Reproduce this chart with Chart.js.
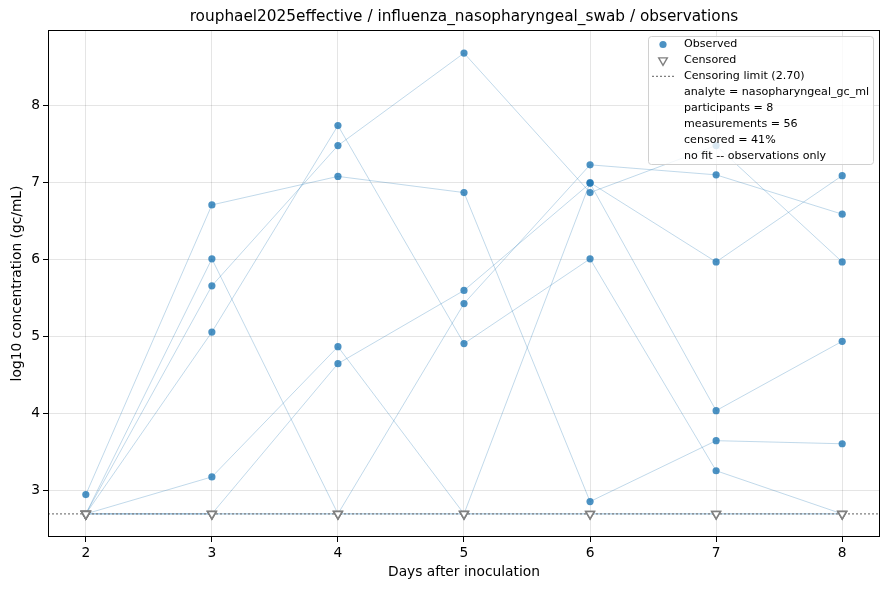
<!DOCTYPE html>
<html>
<head>
<meta charset="utf-8">
<script src="https://cdn.jsdelivr.net/npm/chart.js@4.4.1/dist/chart.umd.min.js"></script>
<style>
  html, body { margin: 0; padding: 0; background: #fff; }
  #wrap { width: 889px; height: 590px; position: relative; }
</style>
</head>
<body>
<div id="wrap"><canvas id="chart"></canvas></div>
<script>
// days sampled, one value per participant per day (null = below censoring limit)
const days = [2, 3, 4, 5, 6, 7, 8];
const censorLimit = 2.7;

const p1 = [2.95, 6.71, 7.08, 6.87, 2.86, 3.65, 3.61];
const p2 = [null, 5.06, 7.74, 4.91, 6.01, 3.26, null];
const p3 = [null, 5.66, 7.48, 8.68, 6.87, 7.48, 5.97];
const p4 = [null, 3.18, 4.87, null, null, null, null];
const p5 = [null, null, 4.65, 5.60, 6.99, 4.04, 4.94];
const p6 = [null, 6.01, null, 5.43, 7.23, 7.10, 6.59];
const p7 = [null, null, null, null, 7.00, 5.97, 7.09];
const p8 = [null, null, null, null, null, null, null];

const participants = [p1, p2, p3, p4, p5, p6, p7, p8];

const xTicks = [2, 3, 4, 5, 6, 7, 8];
const yTicks = [3, 4, 5, 6, 7, 8];

const legendLines = [
  "analyte = nasopharyngeal_gc_ml",
  "participants = 8",
  "measurements = 56",
  "censored = 41%",
  "no fit -- observations only",
];

const FONT = "'DejaVu Sans', sans-serif";
const BLUE = "rgba(31,119,180,0.8)";
const LINE_BLUE = "rgba(31,119,180,0.28)";
const GREY = "rgb(128,128,128)";

// build datasets
const datasets = [];
participants.forEach((vals) => {
  datasets.push({
    type: "line",
    data: vals.map((v, i) => ({ x: days[i], y: v === null ? censorLimit : v })),
    borderColor: LINE_BLUE,
    borderWidth: 1,
    pointRadius: 0,
    fill: false,
    tension: 0,
    order: 4,
  });
});

const observed = [];
const censored = [];
participants.forEach((vals) => {
  vals.forEach((v, i) => {
    if (v === null) censored.push({ x: days[i], y: censorLimit });
    else observed.push({ x: days[i], y: v });
  });
});

datasets.push({
  type: "line",
  data: [{ x: 1.7, y: censorLimit }, { x: 8.3, y: censorLimit }],
  borderColor: GREY,
  borderWidth: 1.3,
  borderDash: [2, 2],
  pointRadius: 0,
  fill: false,
  order: 3,
});

datasets.push({
  type: "scatter",
  data: censored,
  pointStyle: "triangle",
  rotation: 180,
  pointRadius: 5,
  backgroundColor: "#fff",
  borderColor: GREY,
  borderWidth: 1.5,
  order: 1,
});

datasets.push({
  type: "scatter",
  data: observed,
  pointRadius: 3.6,
  backgroundColor: BLUE,
  borderWidth: 0,
  order: 0,
});

const frameAndLegend = {
  id: "frameAndLegend",
  afterDraw(chart) {
    const ctx = chart.ctx;
    const a = chart.chartArea;
    ctx.save();
    // title
    ctx.fillStyle = "#000";
    ctx.font = "15.3px " + FONT;
    ctx.textAlign = "center";
    ctx.textBaseline = "middle";
    ctx.fillText("rouphael2025effective / influenza_nasopharyngeal_swab / observations", (a.left + a.right) / 2, 17);

    // axes frame
    ctx.strokeStyle = "#000";
    ctx.lineWidth = 1;
    ctx.strokeRect(a.left + 0.5, a.top + 0.5, a.right - a.left - 1, a.bottom - a.top - 1);

    // legend box
    const bx = 648, by = 36, bw = 225, bh = 128;
    ctx.beginPath();
    ctx.roundRect(bx + 0.5, by + 0.5, bw, bh, 3);
    ctx.fillStyle = "rgba(255,255,255,0.8)";
    ctx.fill();
    ctx.strokeStyle = "#d0d0d0";
    ctx.stroke();

    const tx = 684, row = 15.9, y0 = 44.5;
    ctx.font = "11.1px " + FONT;
    ctx.textAlign = "left";
    ctx.fillStyle = "#000";

    // observed marker
    ctx.beginPath();
    ctx.arc(663, y0, 3.6, 0, Math.PI * 2);
    ctx.fillStyle = BLUE;
    ctx.fill();
    ctx.fillStyle = "#000";
    ctx.fillText("Observed", tx, y0);

    // censored marker
    const cy = y0 + row;
    ctx.beginPath();
    ctx.moveTo(663 - 4.3, cy - 2.5);
    ctx.lineTo(663 + 4.3, cy - 2.5);
    ctx.lineTo(663, cy + 5);
    ctx.closePath();
    ctx.fillStyle = "#fff";
    ctx.fill();
    ctx.strokeStyle = GREY;
    ctx.lineWidth = 1.4;
    ctx.stroke();
    ctx.fillStyle = "#000";
    ctx.fillText("Censored", tx, cy);

    // limit line
    const ly = y0 + 2 * row;
    ctx.beginPath();
    ctx.setLineDash([2, 2]);
    ctx.moveTo(652, ly);
    ctx.lineTo(676, ly);
    ctx.lineWidth = 1.3;
    ctx.stroke();
    ctx.setLineDash([]);
    ctx.fillText("Censoring limit (" + censorLimit.toFixed(2) + ")", tx, ly);

    legendLines.forEach((t, i) => {
      ctx.fillText(t, tx, y0 + (3 + i) * row);
    });
    ctx.restore();
  },
};

new Chart(document.getElementById("chart"), {
  data: { datasets },
  options: {
    responsive: true,
    maintainAspectRatio: false,
    animation: false,
    layout: { padding: { top: 30, right: 9, left: 0, bottom: 0 } },
    plugins: {
      legend: { display: false },
      title: { display: false },
      tooltip: { enabled: false },
    },
    scales: {
      x: {
        type: "linear",
        min: 1.7,
        max: 8.3,
        afterBuildTicks: (s) => { s.ticks = xTicks.map((v) => ({ value: v })); },
        afterFit: (s) => { s.height = 53; },
        ticks: { color: "#000", font: { family: FONT, size: 13.8 }, padding: 3, callback: (v) => v },
        grid: { color: "rgba(0,0,0,0.1)", tickColor: "#000", tickLength: 5 },
        border: { display: false },
        title: { display: true, text: "Days after inoculation", color: "#000", font: { family: FONT, size: 13.8 }, padding: { bottom: 9.7 } },
      },
      y: {
        type: "linear",
        min: 2.4,
        max: 8.98,
        afterBuildTicks: (s) => { s.ticks = yTicks.map((v) => ({ value: v })); },
        afterFit: (s) => { s.width = 48; },
        ticks: { color: "#000", font: { family: FONT, size: 13.8 }, padding: 3, callback: (v) => v },
        grid: { color: "rgba(0,0,0,0.1)", tickColor: "#000", tickLength: 5 },
        border: { display: false },
        title: { display: true, text: "log10 concentration (gc/mL)", color: "#000", font: { family: FONT, size: 13.8 }, padding: { top: 8.7 } },
      },
    },
  },
  plugins: [frameAndLegend],
});
</script>
</body>
</html>
